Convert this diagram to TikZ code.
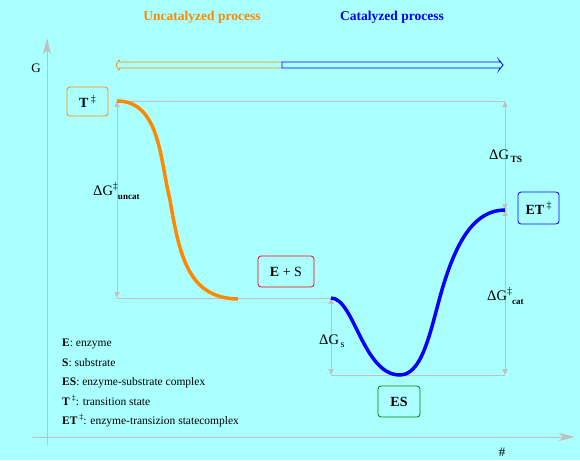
\documentclass[tikz,border=0pt]{standalone}
\usepackage{fontspec}
\setmainfont{Liberation Serif}
\usetikzlibrary{arrows.meta}
\definecolor{bg}{RGB}{170,255,255}
\definecolor{gr}{RGB}{192,192,192}
\definecolor{orng}{RGB}{255,136,0}
\definecolor{grn}{RGB}{0,128,0}
\newcommand{\dagsup}{\raisebox{0.4em}{\fontsize{10}{12}\selectfont ‡}}
\begin{document}
\begin{tikzpicture}[x=1pt,y=-1pt,
  box/.style={draw, rounded corners=3pt, line width=0.8pt, inner sep=0pt, font=\fontsize{14}{16}\selectfont},
  guide/.style={draw=gr, line width=0.9pt},
  dimarrow/.style={guide, {Triangle[length=6pt,width=5pt]}-{Triangle[length=6pt,width=5pt]}},
  axisarrow/.style={draw=gr, line width=1pt, -{Stealth[length=16pt,width=8pt,inset=4pt]}},
  lbl/.style={anchor=base west, inner sep=0pt, font=\fontsize{14.5}{16}\selectfont},
  legend/.style={anchor=base west, inner sep=0pt, font=\fontsize{11.5}{13}\selectfont},
  title/.style={inner sep=0pt, font=\fontsize{13.5}{15}\selectfont\bfseries},
  energy/.style={line width=3.5pt}
]
\fill[bg] (0,0) rectangle (580,460);
\useasboundingbox (0,0) rectangle (580,460);

% axes
\coordinate (yb) at (47,445);
\coordinate (yt) at (47,38);
\coordinate (xl) at (32,437);
\coordinate (xr) at (575,437);
\draw[axisarrow] (yb) -- (yt);
\draw[axisarrow] (xl) -- (xr);
\node[inner sep=0pt, font=\fontsize{13}{15}\selectfont] (glab) at (36,68) {G};
\node[inner sep=0pt, font=\fontsize{13}{15}\selectfont] (hash) at (502,452) {\#};

% titles
\node[title, text=orng] (tu) at (202,17) {Uncatalyzed process};
\node[title, text=blue] (tc) at (392,17) {Catalyzed process};

% double arrow
\coordinate (dm) at (282,65);
\draw[orng, line width=0.7pt] (282,62) -- (120,62) -- (119,60) -- (116,65) -- (119,70) -- (120,68) -- (282,68);
\draw[blue, line width=0.8pt] (282,62) -- (500,62) -- (499,60) -- (503,65) -- (499,70) -- (500,68) -- (282,68) -- cycle;

% key coordinates
\coordinate (ts) at (117,101);
\coordinate (tsR) at (505,101);
\coordinate (esub) at (238,299);
\coordinate (esL) at (117,298);
\coordinate (esR) at (331,298);
\coordinate (esmin) at (400,375);
\coordinate (esminR) at (505,375);
\coordinate (et) at (505,210);
\coordinate (esMinL) at (331,375);

% guide lines
\draw[guide] (ts) -- (tsR);
\draw[guide] (esL) -- (esR);
\draw[guide] (esMinL) -- (esminR);
\draw[dimarrow] (ts) -- (esL);
\draw[dimarrow] (esR) -- (esMinL);
\draw[dimarrow] (tsR) -- (et);
\draw[dimarrow] (et) -- (esminR);

% energy curves
\draw[energy, orng] (ts) .. controls (160,101) and (160,160) .. (170,200)
   .. controls (180,260) and (190,298) .. (esub);
\draw[energy, blue] (esR) .. controls (354,298) and (363,375) .. (esmin)
   .. controls (425,375) and (432,320) .. (445,280)
   .. controls (458,240) and (475,210) .. (et);

% state boxes
\node[box, draw=orng, minimum width=41pt, minimum height=29pt] (T) at (87.5,101.5) {\textbf{T}\,\dagsup};
\node[box, draw=red, minimum width=56pt, minimum height=31pt] (ES0) at (286,271.5) {\textbf{E} + S};
\node[box, draw=grn, minimum width=42pt, minimum height=31pt] (ES) at (399,401.5) {\textbf{ES}};
\node[box, draw=blue, minimum width=41pt, minimum height=32pt] (ET) at (538.5,208) {\textbf{ET}\,\dagsup};

% energy labels
\node[lbl] (dGu) at (93,195) {ΔG\raisebox{0.4em}{\fontsize{10}{12}\selectfont ‡}\raisebox{-0.3em}{\fontsize{9}{10}\selectfont\bfseries uncat}};
\node[lbl] (dGs) at (319,344) {ΔG\raisebox{-0.25em}{\fontsize{10}{12}\selectfont\,s}};
\node[lbl] (dGts) at (489,159) {ΔG\raisebox{-0.25em}{\fontsize{9.5}{11}\selectfont\bfseries\,TS}};
\node[lbl] (dGc) at (487,300) {ΔG\raisebox{0.4em}{\fontsize{10}{12}\selectfont ‡}\raisebox{-0.3em}{\fontsize{9}{10}\selectfont\bfseries cat}};

% legend
\node[legend] (l1) at (62,346) {\textbf{E}: enzyme};
\node[legend] (l2) at (62,366) {\textbf{S}: substrate};
\node[legend] (l3) at (62,385) {\textbf{ES}: enzyme-substrate complex};
\node[legend] (l4) at (62,405) {\textbf{T}\,\raisebox{0.4em}{\footnotesize ‡}: transition state};
\node[legend] (l5) at (62,424) {\textbf{ET}\,\raisebox{0.4em}{\footnotesize ‡}: enzyme-transizion statecomplex};
\end{tikzpicture}
\end{document}
